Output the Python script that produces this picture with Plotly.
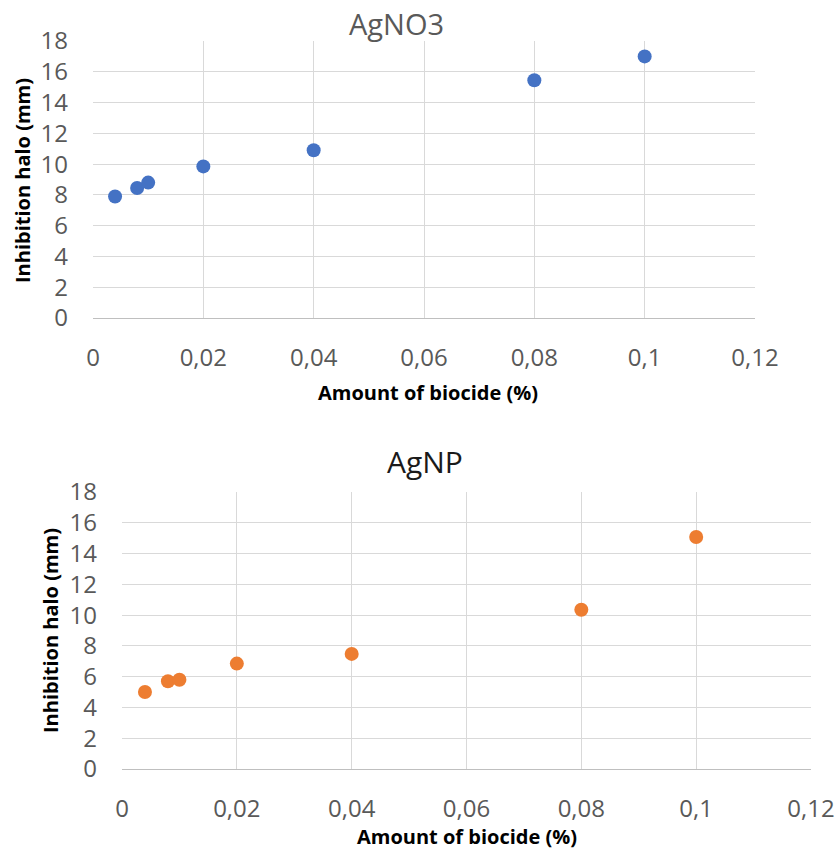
import plotly.graph_objects as go

# Data
biocide_pct = [0.004, 0.008, 0.01, 0.02, 0.04, 0.08, 0.1]
agno3_halo = [7.9, 8.45, 8.8, 9.85, 10.9, 15.45, 17.0]
agnp_halo = [5.0, 5.7, 5.8, 6.85, 7.48, 10.35, 15.08]

x_tickvals = [0, 0.02, 0.04, 0.06, 0.08, 0.1, 0.12]
x_ticktext = ["0", "0,02", "0,04", "0,06", "0,08", "0,1", "0,12"]
y_tickvals = [0, 2, 4, 6, 8, 10, 12, 14, 16, 18]

W, H = 838, 852
FONT = "Open Sans"
TICKC = "#595959"
GRID = "#d9d9d9"

fig = go.Figure()
fig.add_trace(go.Scatter(x=biocide_pct, y=agno3_halo, mode="markers",
                         marker=dict(size=14, color="#4472C4"),
                         xaxis="x", yaxis="y", showlegend=False))
fig.add_trace(go.Scatter(x=biocide_pct, y=agnp_halo, mode="markers",
                         marker=dict(size=14, color="#ED7D31"),
                         xaxis="x2", yaxis="y2", showlegend=False))

def px_x(v):
    return v / W

def px_y(v):
    return 1 - v / H

top = dict(l=93, r=755, t=41, b=318)
bot = dict(l=122, r=811, t=492, b=769)

xcommon = dict(range=[0, 0.12], tickvals=x_tickvals, ticktext=x_ticktext,
               showgrid=True, gridcolor=GRID, gridwidth=1, zeroline=False,
               showline=True, linecolor="#bfbfbf", linewidth=1,
               tickfont=dict(family=FONT, size=24, color=TICKC),
               ticks="", ticklabelstandoff=18, automargin=False, fixedrange=True)
ycommon = dict(range=[0, 18], tickvals=y_tickvals,
               showgrid=True, gridcolor=GRID, gridwidth=1, zeroline=False,
               showline=False,
               tickfont=dict(family=FONT, size=24, color=TICKC),
               ticks="", ticklabelstandoff=24, automargin=False, fixedrange=True)

fig.update_layout(
    width=W, height=H,
    margin=dict(l=0, r=0, t=0, b=0),
    paper_bgcolor="white", plot_bgcolor="white",
    xaxis=dict(domain=[px_x(top["l"]), px_x(top["r"])], anchor="y", **xcommon),
    yaxis=dict(domain=[px_y(top["b"]), px_y(top["t"])], anchor="x", **ycommon),
    xaxis2=dict(domain=[px_x(bot["l"]), px_x(bot["r"])], anchor="y2", **xcommon),
    yaxis2=dict(domain=[px_y(bot["b"]), px_y(bot["t"])], anchor="x2", **ycommon),
)

ann = []
def add_text(text, x, y, size, color, bold=False, angle=0):
    ann.append(dict(text=("<b>%s</b>" % text) if bold else text,
                    x=px_x(x), y=px_y(y), xref="paper", yref="paper",
                    xanchor="center", yanchor="middle", showarrow=False,
                    textangle=angle,
                    font=dict(family=FONT, size=size, color=color)))

add_text("AgNO3", 396, 23, 29, "#595959")
add_text("AgNP", 425, 461, 30, "#1a1a1a")
add_text("Amount of biocide (%)", 428, 393, 20, "#000000", bold=True)
add_text("Amount of biocide (%)", 467, 836, 20, "#000000", bold=True)
add_text("Inhibition halo (mm)", 22, 181, 20, "#000000", bold=True, angle=-90)
add_text("Inhibition halo (mm)", 50, 631, 20, "#000000", bold=True, angle=-90)
fig.update_layout(annotations=ann)

fig.write_html("out.html")
